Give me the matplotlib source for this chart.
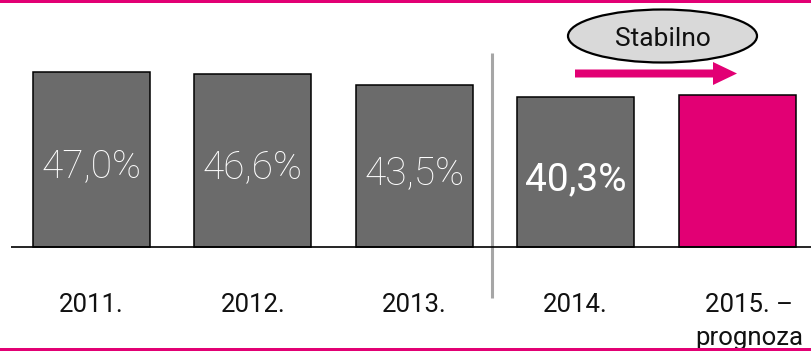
import matplotlib
matplotlib.use("Agg")
import matplotlib.pyplot as plt
from matplotlib.patches import Ellipse, FancyArrow, Rectangle

# ---- data ----
categories = ["2011.", "2012.", "2013.", "2014.", "2015. –\nprognoza"]
values = [47.0, 46.6, 43.5, 40.3, 40.8]
value_labels = ["47,0%", "46,6%", "43,5%", "40,3%", ""]
bar_colors = ["#6B6B6B", "#6B6B6B", "#6B6B6B", "#6B6B6B", "#E20074"]
label_weights = ["light", "light", "light", "normal", "light"]
callout_text = "Stabilno"

MAGENTA = "#E20074"
plt.rcParams['font.family'] = ['Roboto', 'DejaVu Sans']

W, H, DPI = 812, 351, 100
fig = plt.figure(figsize=(W / DPI, H / DPI), dpi=DPI)
ax = fig.add_axes([0, 0, 1, 1])

# pixel geometry of the layout
X0_PX, STEP_PX = 91.5, 161.4       # first bar centre, spacing
BASE_PX, PX_PER_UNIT = 247.0, 3.72  # baseline (from top), px per %

ax.set_xlim(-X0_PX / STEP_PX, (W - X0_PX) / STEP_PX)
ax.set_ylim(-(H - BASE_PX) / PX_PER_UNIT, BASE_PX / PX_PER_UNIT)
ax.axis("off")

def py(y_px):
    return (BASE_PX - y_px) / PX_PER_UNIT

def px(x_px):
    return (x_px - X0_PX) / STEP_PX

xs = list(range(len(categories)))
ax.bar(xs, values, width=117 / STEP_PX, color=bar_colors,
       edgecolor="black", linewidth=1.1, zorder=2)

# baseline
ax.plot([px(11), px(W)], [0, 0], color="black", linewidth=1.2, zorder=3,
        solid_capstyle="butt")

# value labels inside bars
for x, v, lab, w in zip(xs, values, value_labels, label_weights):
    if lab:
        ax.text(x, v / 2 - 18 / PX_PER_UNIT, lab, ha="center", va="baseline",
                color="white", fontsize=28, fontweight=w, zorder=4)

# category labels
for x, lab in zip(xs, categories):
    lines = lab.split("\n")
    xo = x + (12 / STEP_PX if len(lines) > 1 else 0)
    ax.text(xo, py(312), lines[0], ha="center", va="baseline",
            color="#111111", fontsize=18.5, fontweight="normal")
    if len(lines) > 1:
        ax.text(xo, py(345), lines[1], ha="center", va="baseline",
                color="#111111", fontsize=18.5, fontweight="normal")

# vertical separator
ax.plot([px(492), px(492)], [py(53), py(298)], color="#A6A6A6",
        linewidth=2.2, solid_capstyle="butt", zorder=1)

# callout ellipse + arrow
ell = Ellipse((px(662.5), py(36)), 189 / STEP_PX, 53 / PX_PER_UNIT,
              facecolor="#D9D9D9", edgecolor="black", linewidth=1.6, zorder=5)
ax.add_patch(ell)
ax.text(px(663), py(39), callout_text, ha="center", va="center",
        fontsize=19, fontweight="normal", color="#111111", zorder=6)

arr = FancyArrow(px(575), py(73.5), (713 - 575 + 24) / STEP_PX, 0,
                 width=8 / PX_PER_UNIT, head_width=23 / PX_PER_UNIT,
                 head_length=24 / STEP_PX, length_includes_head=True,
                 color=MAGENTA, linewidth=0, zorder=5)
ax.add_patch(arr)

# magenta frame lines
fig.patches.append(Rectangle((0, 1 - 3 / H), 1, 3 / H, transform=fig.transFigure,
                             facecolor=MAGENTA, edgecolor="none", zorder=10))
fig.patches.append(Rectangle((0, 0), 1, 3.5 / H, transform=fig.transFigure,
                             facecolor=MAGENTA, edgecolor="none", zorder=10))

fig.savefig("out.png", dpi=DPI)
